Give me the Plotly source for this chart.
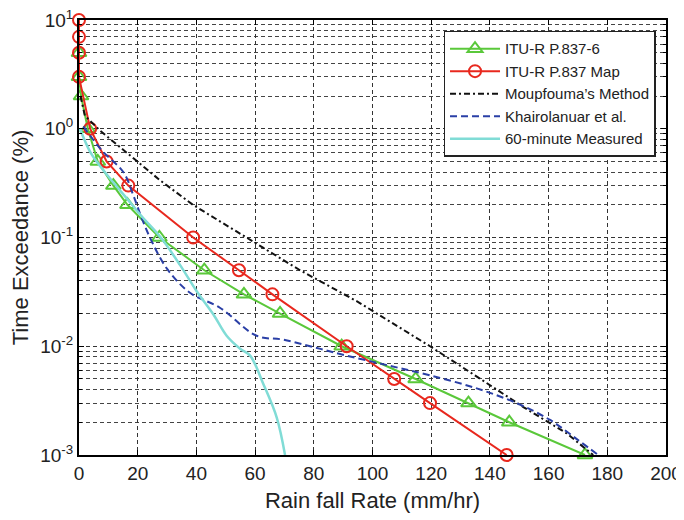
import plotly.graph_objects as go

# ---- data ----
itu6_rate = [0, 0, 0.7, 3, 6.4, 11.7, 16.5, 27.4, 42.7, 56.2, 68.5, 89.5, 114.7, 132.7, 146.6, 172.4]
itu6_pct = [5, 3, 2, 1, 0.5, 0.3, 0.2, 0.1, 0.05, 0.03, 0.02, 0.01, 0.005, 0.003, 0.002, 0.001]

map_rate = [0, 0, 0, 0, 3.8, 9.4, 16.8, 38.9, 54.5, 65.9, 91.2, 107.4, 119.6, 145.7]
map_pct = [10, 7, 5, 3, 1, 0.5, 0.3, 0.1, 0.05, 0.03, 0.01, 0.005, 0.003, 0.001]

moup_rate = [0.5, 2, 7.2, 17.4, 27.6, 38.9, 58.3, 75.3, 94.6, 119.6, 137.8, 151.4, 166.2, 175.2]
moup_pct = [2, 1.32, 0.96, 0.57, 0.336, 0.199, 0.095, 0.05, 0.026, 0.01, 0.0048, 0.00276, 0.00158, 0.001]

khai_rate = [1.5, 4, 8.3, 15.1, 18.5, 21.4, 24.8, 29.9, 37.8, 48, 60.5, 69.6, 80, 91.2, 106, 119.6, 135.5, 149.1, 160.5, 169.6, 176.9]
khai_pct = [1.05, 0.85, 0.61, 0.4, 0.245, 0.15, 0.092, 0.052, 0.031, 0.0226, 0.0125, 0.0115, 0.0098, 0.0082, 0.0066, 0.0054, 0.0041, 0.003, 0.0021, 0.0014, 0.001]

meas_rate = [0.3, 3.7, 6, 11.7, 16.2, 21.5, 27.6, 34.4, 40.1, 45.8, 50.3, 54.9, 58.3, 62.8, 67.4, 70.2]
meas_pct = [1.0, 0.62, 0.5, 0.32, 0.23, 0.155, 0.102, 0.056, 0.032, 0.0196, 0.0125, 0.0095, 0.0082, 0.0045, 0.0022, 0.001]

x_ticks = list(range(0, 201, 20))
y_tickvals = [0.001, 0.01, 0.1, 1, 10]
y_ticktext = ["10<sup>-3</sup>", "10<sup>-2</sup>", "10<sup>-1</sup>", "10<sup>0</sup>", "10<sup>1</sup>"]
y_minor = [k * 10.0 ** d for d in range(-3, 1) for k in range(2, 10)]

FONT = "Liberation Sans, Arial, sans-serif"

fig = go.Figure()
fig.add_trace(go.Scatter(x=itu6_rate, y=itu6_pct, name="ITU-R P.837-6", mode="lines+markers",
                         line=dict(color="#5ac83a", width=2),
                         marker=dict(symbol="triangle-up-open", size=13, color="#5ac83a", line=dict(width=2)),
                         cliponaxis=False))
fig.add_trace(go.Scatter(x=map_rate, y=map_pct, name="ITU-R P.837 Map", mode="lines+markers",
                         line=dict(color="#e8281e", width=2),
                         marker=dict(symbol="circle-open", size=12, color="#e8281e", line=dict(width=2)),
                         cliponaxis=False))
fig.add_trace(go.Scatter(x=moup_rate, y=moup_pct, name="Moupfouma’s Method", mode="lines",
                         line=dict(color="#111111", width=2, dash="6px,3px,2px,3px")))
fig.add_trace(go.Scatter(x=khai_rate, y=khai_pct, name="Khairolanuar et al.", mode="lines",
                         line=dict(color="#2a3fa6", width=2, dash="7px,4px"), line_shape="spline"))
fig.add_trace(go.Scatter(x=meas_rate, y=meas_pct, name="60-minute Measured", mode="lines",
                         line=dict(color="#80dcd6", width=2.5), line_shape="spline"))

grid_dash = "4px,3px"
fig.update_layout(
    width=676, height=512,
    margin=dict(l=71, r=18, t=12, b=65),
    paper_bgcolor="white", plot_bgcolor="white",
    font=dict(family=FONT, color="#222222", size=19),
    showlegend=True,
    legend=dict(x=0.621, y=0.975, xanchor="left", yanchor="top",
                bgcolor="white", bordercolor="#222222", borderwidth=1.5,
                font=dict(size=15, family=FONT, color="#222222"),
                itemwidth=50, tracegroupgap=0),
    xaxis=dict(range=[0, 200], tickvals=x_ticks, showline=True, linecolor="black", linewidth=2,
               mirror="ticks", ticks="inside", ticklen=5, tickcolor="black",
               showgrid=True, gridcolor="#333333", gridwidth=1, griddash=grid_dash,
               zeroline=False, tickfont=dict(size=19), automargin=False,
               ticklabeloverflow="allow",
               title=dict(text="Rain fall Rate (mm/hr)", font=dict(size=22), standoff=10)),
    yaxis=dict(type="log", range=[-3, 1], tickvals=y_tickvals, ticktext=y_ticktext,
               showline=True, linecolor="black", linewidth=2, mirror="ticks",
               ticks="inside", ticklen=5, tickcolor="black",
               showgrid=True, gridcolor="#333333", gridwidth=1, griddash=grid_dash,
               minor=dict(tickvals=y_minor, ticks="inside", ticklen=3, tickcolor="black",
                          showgrid=True, gridcolor="#444444", gridwidth=1, griddash=grid_dash),
               zeroline=False, tickfont=dict(size=19), automargin=False,
               ticklabeloverflow="allow",
               title=dict(text="Time Exceedance (%)", font=dict(size=22), standoff=13)),
)

fig.write_html("out.html")
